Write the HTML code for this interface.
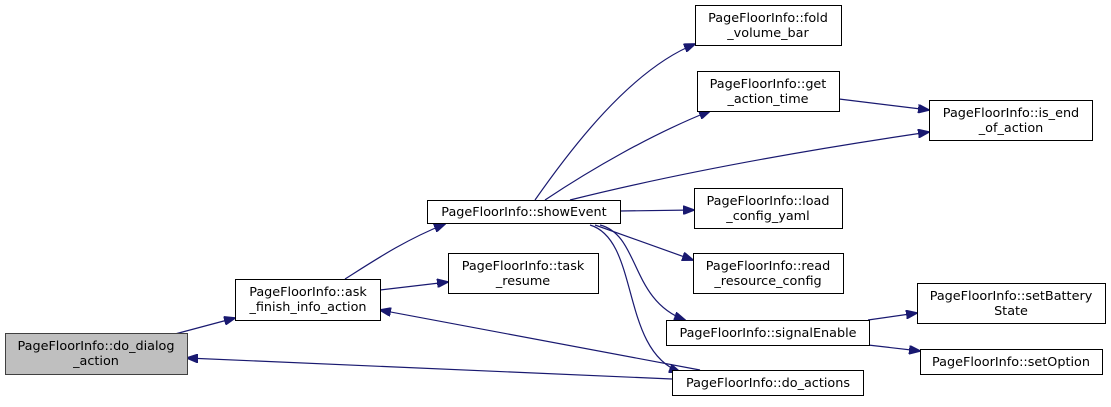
<!DOCTYPE html>
<html><head><style>
body{margin:0;background:#fff;width:1111px;height:402px;overflow:hidden}
text{font-family:"DejaVu Sans","Liberation Sans",sans-serif;font-size:12.8px;fill:#000}
</style></head><body>
<svg width="1111" height="402" xmlns="http://www.w3.org/2000/svg">
<defs><marker id="a" markerWidth="12" markerHeight="9" refX="11" refY="4.5" orient="auto" markerUnits="userSpaceOnUse"><path d="M0,0 L12,4.5 L0,9 z" fill="#191970" stroke="#191970"/></marker></defs>
<g fill="none" stroke="#191970" stroke-width="1.2" marker-end="url(#a)">
<path d="M175,334 L235,318"/>
<path d="M345,279 C375,260 405,240 445,224"/>
<path d="M380,290 L448,282"/>
<path d="M535,200 C570,150 630,70 695,44"/>
<path d="M545,200 C590,170 650,135 710,111"/>
<path d="M570,200 C690,170 820,148 929,132"/>
<path d="M839,99 L929,110"/>
<path d="M620,211 L694,210"/>
<path d="M595,225 L693,260"/>
<path d="M600,225 C640,235 630,300 685,320"/>
<path d="M590,225 C640,240 620,350 680,372"/>
<path d="M868,320 L917,313"/>
<path d="M868,345 L920,351"/>
<path d="M700,370 L380,310"/>
<path d="M672,379 L187,358"/>
</g>
<g stroke="#000" stroke-width="1">
<rect x="5.5" y="333.5" width="182" height="41" fill="#bfbfbf" stroke="#404040"/>
<rect x="235.5" y="279.5" width="145" height="41" fill="#fff"/>
<rect x="427.5" y="200.5" width="193" height="23" fill="#fff"/>
<rect x="448.5" y="253.5" width="150" height="40" fill="#fff"/>
<rect x="695.5" y="5.5" width="146" height="40" fill="#fff"/>
<rect x="697.5" y="71.5" width="142" height="40" fill="#fff"/>
<rect x="929.5" y="100.5" width="163" height="40" fill="#fff"/>
<rect x="694.5" y="188.5" width="148" height="40" fill="#fff"/>
<rect x="693.5" y="253.5" width="150" height="40" fill="#fff"/>
<rect x="666.5" y="320.5" width="203" height="25" fill="#fff"/>
<rect x="672.5" y="370.5" width="191" height="25" fill="#fff"/>
<rect x="917.5" y="283.5" width="188" height="40" fill="#fff"/>
<rect x="920.5" y="349.5" width="182" height="25" fill="#fff"/>
</g>
<g text-anchor="middle">
<text x="96" y="350">PageFloorInfo::do_dialog</text><text x="96" y="365">_action</text>
<text x="308" y="296">PageFloorInfo::ask</text><text x="308" y="311">_finish_info_action</text>
<text x="524" y="216">PageFloorInfo::showEvent</text>
<text x="523" y="270">PageFloorInfo::task</text><text x="523" y="285">_resume</text>
<text x="768" y="22">PageFloorInfo::fold</text><text x="768" y="37">_volume_bar</text>
<text x="768" y="88">PageFloorInfo::get</text><text x="768" y="103">_action_time</text>
<text x="1011" y="117">PageFloorInfo::is_end</text><text x="1011" y="132">_of_action</text>
<text x="768" y="205">PageFloorInfo::load</text><text x="768" y="220">_config_yaml</text>
<text x="768" y="270">PageFloorInfo::read</text><text x="768" y="285">_resource_config</text>
<text x="768" y="337">PageFloorInfo::signalEnable</text>
<text x="768" y="387">PageFloorInfo::do_actions</text>
<text x="1011" y="300">PageFloorInfo::setBattery</text><text x="1011" y="315">State</text>
<text x="1011" y="366">PageFloorInfo::setOption</text>
</g>
</svg>
</body></html>
